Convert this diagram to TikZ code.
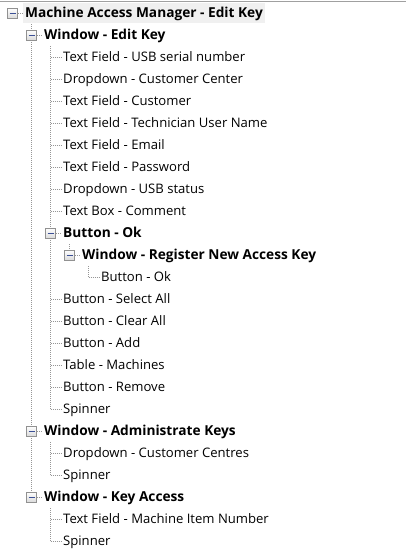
\documentclass[tikz,border=0pt]{standalone}
\usepackage{fontspec}
\setmainfont{Open Sans}
\definecolor{boxgray}{RGB}{145,145,145}
\definecolor{linegray}{RGB}{150,150,150}
\definecolor{minusblue}{RGB}{60,80,150}
\definecolor{hlgray}{RGB}{240,240,240}
\definecolor{topline}{RGB}{160,160,160}
\pgfdeclarelayer{bg}
\pgfsetlayers{bg,main}
\begin{document}
\begin{tikzpicture}[x=1pt,y=-1pt,
  lbl/.style={anchor=west, inner sep=0pt, text height=9.3pt, text depth=0pt, font=\fontsize{13.1}{15}\selectfont},
  blbl/.style={lbl, font=\fontsize{13.7}{15}\selectfont\bfseries},
  tbox/.style={draw=boxgray, line width=0.9pt, minimum size=10pt, inner sep=0pt, top color=white, bottom color=gray!28,
    path picture={\draw[minusblue, line width=1pt] ([xshift=-3pt]path picture bounding box.center) -- ([xshift=3pt]path picture bounding box.center);}},
  dots/.style={draw=linegray, line width=1pt, dash pattern=on 1pt off 1pt}]
\useasboundingbox (0,0) rectangle (406,560);
\draw[topline, line width=1pt] (0,1) -- (406,1);
% boxes
\node[tbox] (b1)  at (12.5,13)  {};
\node[tbox] (b2)  at (31.5,35)  {};
\node[tbox] (b11) at (50.5,233) {};
\node[tbox] (b12) at (69.5,255) {};
\node[tbox] (b20) at (31.5,431) {};
\node[tbox] (b23) at (31.5,497) {};
% texts
\node[blbl, fill=hlgray, inner xsep=2pt, inner ysep=5pt] (t1) at (23,13) {Machine Access Manager - Edit Key};
\node[blbl] (t2)  at (44,35)  {Window - Edit Key};
\node[lbl]  (t3)  at (63,57)  {Text Field - USB serial number};
\node[lbl]  (t4)  at (63,79)  {Dropdown - Customer Center};
\node[lbl]  (t5)  at (63,101) {Text Field - Customer};
\node[lbl]  (t6)  at (63,123) {Text Field - Technician User Name};
\node[lbl]  (t7)  at (63,145) {Text Field - Email};
\node[lbl]  (t8)  at (63,167) {Text Field - Password};
\node[lbl]  (t9)  at (63,189) {Dropdown - USB status};
\node[lbl]  (t10) at (63,211) {Text Box - Comment};
\node[blbl] (t11) at (63,233) {Button - Ok};
\node[blbl] (t12) at (82,255) {Window - Register New Access Key};
\node[lbl]  (t13) at (101,277) {Button - Ok};
\node[lbl]  (t14) at (63,299) {Button - Select All};
\node[lbl]  (t15) at (63,321) {Button - Clear All};
\node[lbl]  (t16) at (63,343) {Button - Add};
\node[lbl]  (t17) at (63,365) {Table - Machines};
\node[lbl]  (t18) at (63,387) {Button - Remove};
\node[lbl]  (t19) at (63,409) {Spinner};
\node[blbl] (t20) at (44,431) {Window - Administrate Keys};
\node[lbl]  (t21) at (63,453) {Dropdown - Customer Centres};
\node[lbl]  (t22) at (63,475) {Spinner};
\node[blbl] (t23) at (44,497) {Window - Key Access};
\node[lbl]  (t24) at (63,519) {Text Field - Machine Item Number};
\node[lbl]  (t25) at (63,541) {Spinner};
% line start coordinates
\coordinate (r1)  at (31.5,24);
\coordinate (r2)  at (50.5,46);
\coordinate (r11) at (69.5,244);
\coordinate (r12) at (88.5,266);
\coordinate (r20) at (50.5,442);
\coordinate (r23) at (50.5,508);
\begin{pgfonlayer}{bg}
  \draw[dots] (r1) -- (b23.center);
  \draw[dots] (r2) -- (t19.west -| r2);
  \draw[dots] (r11) -- (b12.center);
  \draw[dots] (r12) -- (t13.west -| r12);
  \draw[dots] (r20) -- (t22.west -| r20);
  \draw[dots] (r23) -- (t25.west -| r23);
  \draw[dots] (b1.east) -- (t1.west);
  \draw[dots] (b2.east) -- ([xshift=-2pt]t2.west);
  \draw[dots] (b11.east) -- ([xshift=-2pt]t11.west);
  \draw[dots] (b12.east) -- ([xshift=-2pt]t12.west);
  \draw[dots] (b20.east) -- ([xshift=-2pt]t20.west);
  \draw[dots] (b23.east) -- ([xshift=-2pt]t23.west);
  \foreach \i in {3,...,10,14,15,16,17,18,19} {\draw[dots] (t\i.west -| r2) -- ([xshift=-2pt]t\i.west);}
  \draw[dots] (t13.west -| r12) -- ([xshift=-2pt]t13.west);
  \draw[dots] (t21.west -| r20) -- ([xshift=-2pt]t21.west);
  \draw[dots] (t22.west -| r20) -- ([xshift=-2pt]t22.west);
  \draw[dots] (t24.west -| r23) -- ([xshift=-2pt]t24.west);
  \draw[dots] (t25.west -| r23) -- ([xshift=-2pt]t25.west);
\end{pgfonlayer}
\end{tikzpicture}
\end{document}
